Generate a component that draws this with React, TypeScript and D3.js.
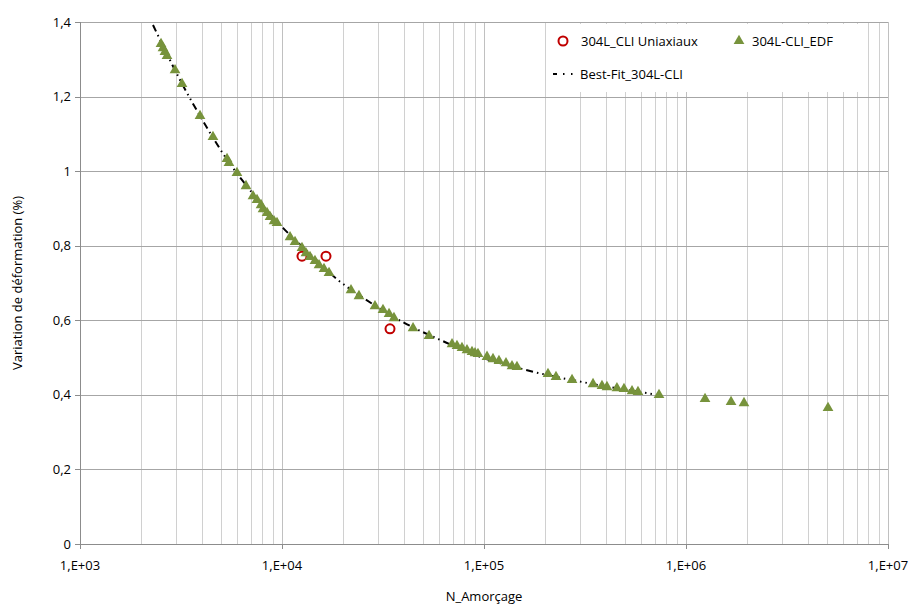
import React from "react";
import * as d3 from "d3";

// 304L-CLI_EDF (triangles)
const edfN = [2518, 2576, 2634, 2696, 2954, 3199, 3927, 4552, 5343, 5463, 5984, 6634, 7185, 7522, 7875, 8057, 8433, 8726, 9130, 9446,
  10960, 11600, 12560, 13140, 13760, 14560, 15250, 16140, 17090, 21960, 24050, 28860, 31620, 33880, 35840, 44540, 53430,
  69460, 73500, 77800, 82370, 87220, 90240, 93360, 103500, 110800, 118600, 128500, 137600, 145600,
  207400, 227200, 272800, 346500, 383800, 406300, 455100, 493200, 540500, 578500, 735100, 1242000, 1671000, 1937000, 5047000];
const edfY = [1.341, 1.330, 1.320, 1.309, 1.271, 1.234, 1.148, 1.092, 1.033, 1.022, 0.995, 0.960, 0.933, 0.923, 0.909, 0.898, 0.888, 0.877, 0.866, 0.861,
  0.823, 0.810, 0.794, 0.780, 0.770, 0.759, 0.748, 0.738, 0.727, 0.681, 0.665, 0.638, 0.628, 0.617, 0.606, 0.579, 0.558,
  0.536, 0.531, 0.526, 0.520, 0.515, 0.512, 0.510, 0.502, 0.496, 0.491, 0.485, 0.477, 0.475,
  0.456, 0.448, 0.440, 0.429, 0.424, 0.421, 0.418, 0.416, 0.410, 0.408, 0.400, 0.389, 0.381, 0.378, 0.365];

// 304L_CLI Uniaxiaux (circles)
const uniN = [12560, 16510, 34250];
const uniY = [0.772, 0.772, 0.577];

// Best-Fit_304L-CLI
const fitN = [2298, 3090, 4203, 5164, 6946, 10110, 13760, 18930, 25760, 39710, 62660, 95520, 169000, 323600, 686500];
const fitY = [1.392, 1.250, 1.121, 1.043, 0.949, 0.848, 0.778, 0.708, 0.657, 0.595, 0.544, 0.502, 0.464, 0.432, 0.402];

const yTicks = [0, 0.2, 0.4, 0.6, 0.8, 1, 1.2, 1.4];
const yTickLabels = ["0", "0,2", "0,4", "0,6", "0,8", "1", "1,2", "1,4"];
const xDecades = [1e3, 1e4, 1e5, 1e6, 1e7];
const xTickLabels = ["1,E+03", "1,E+04", "1,E+05", "1,E+06", "1,E+07"];

const seriesNames = ["304L_CLI Uniaxiaux", "304L-CLI_EDF", "Best-Fit_304L-CLI"];

const W = 912, H = 606;
const L = 80, R = 888, T = 22, B = 544;
const FONT = "'Open Sans', 'Noto Sans', sans-serif";
const GREEN = "#77933C";
const RED = "#C00000";
const DASH = "7,4,1.5,4,1.5,4";

export default function App() {
  const x = d3.scaleLog().domain([1e3, 1e7]).range([L, R]);
  const y = d3.scaleLinear().domain([0, 1.4]).range([B, T]);

  const minor: number[] = [];
  for (let d = 0; d < 4; d++) {
    for (let k = 2; k <= 9; k++) minor.push(xDecades[d] * k);
  }

  const tri = d3.symbol().type(d3.symbolTriangle).size(50)();
  const line = d3.line<number>()
    .x((_, i) => x(fitN[i]))
    .y((d) => y(d))
    .curve(d3.curveMonotoneX);

  return (
    <svg width={W} height={H} style={{ position: "absolute", left: 0, top: 0, background: "#fff" }}
      fontFamily={FONT}>
      <rect x={0} y={0} width={W} height={H} fill="#fff" />
      {/* vertical grid */}
      {minor.map((v, i) => (
        <line key={"m" + i} x1={Math.round(x(v)) + 0.5} x2={Math.round(x(v)) + 0.5} y1={T} y2={B}
          stroke="#d0d0d0" strokeWidth={1} />
      ))}
      {xDecades.slice(1).map((v, i) => (
        <line key={"d" + i} x1={Math.round(x(v)) + 0.5} x2={Math.round(x(v)) + 0.5} y1={T} y2={B}
          stroke="#c0c0c0" strokeWidth={1} />
      ))}
      {/* horizontal grid */}
      {yTicks.slice(1).map((v, i) => (
        <line key={"h" + i} x1={L} x2={R} y1={Math.round(y(v)) + 0.5} y2={Math.round(y(v)) + 0.5}
          stroke="#a6a6a6" strokeWidth={1} />
      ))}
      {/* axes */}
      <line x1={L + 0.5} x2={L + 0.5} y1={T} y2={B} stroke="#8c8c8c" />
      <line x1={L} x2={R} y1={B + 0.5} y2={B + 0.5} stroke="#8c8c8c" />
      {yTicks.map((v, i) => (
        <g key={"yt" + i}>
          <line x1={L - 5} x2={L} y1={Math.round(y(v)) + 0.5} y2={Math.round(y(v)) + 0.5} stroke="#8c8c8c" />
          <text x={L - 9} y={y(v)} dy="0.35em" textAnchor="end" fontSize={13} fill="#000">{yTickLabels[i]}</text>
        </g>
      ))}
      {xDecades.map((v, i) => (
        <g key={"xt" + i}>
          <line x1={Math.round(x(v)) + 0.5} x2={Math.round(x(v)) + 0.5} y1={B} y2={B + 5} stroke="#8c8c8c" />
          <text x={x(v)} y={570} textAnchor="middle" fontSize={13} fill="#000">{xTickLabels[i]}</text>
        </g>
      ))}
      {/* axis titles */}
      <text x={484} y={601} textAnchor="middle" fontSize={13} fill="#000">N_Amorçage</text>
      <text transform={`translate(22,283) rotate(-90)`} textAnchor="middle" fontSize={13} fill="#000">
        Variation de déformation (%)
      </text>

      {/* fit line */}
      <path d={line(fitY) || ""} fill="none" stroke="#000" strokeWidth={2} strokeDasharray={DASH} />

      {/* uniaxial circles */}
      {uniN.map((n, i) => (
        <circle key={"u" + i} cx={x(n)} cy={y(uniY[i])} r={4.5} fill="none" stroke={RED} strokeWidth={2} />
      ))}
      {/* EDF triangles */}
      {edfN.map((n, i) => (
        <path key={"e" + i} d={tri || ""} transform={`translate(${x(n)},${y(edfY[i])})`} fill={GREEN} />
      ))}

      {/* legend */}
      <rect x={546} y={24} width={320} height={68} fill="#fff" />
      <circle cx={563} cy={41} r={4.5} fill="none" stroke={RED} strokeWidth={2} />
      <text x={581} y={41} dy="0.35em" fontSize={13} fill="#000">{seriesNames[0]}</text>
      <path d={tri || ""} transform="translate(739,41)" fill={GREEN} />
      <text x={752} y={41} dy="0.35em" fontSize={13} fill="#000">{seriesNames[1]}</text>
      <line x1={553} x2={578} y1={74} y2={74} stroke="#000" strokeWidth={2} strokeDasharray="4,6,1.5,6.5,1.5,6" />
      <text x={580} y={74} dy="0.35em" fontSize={13} fill="#000">{seriesNames[2]}</text>
    </svg>
  );
}
